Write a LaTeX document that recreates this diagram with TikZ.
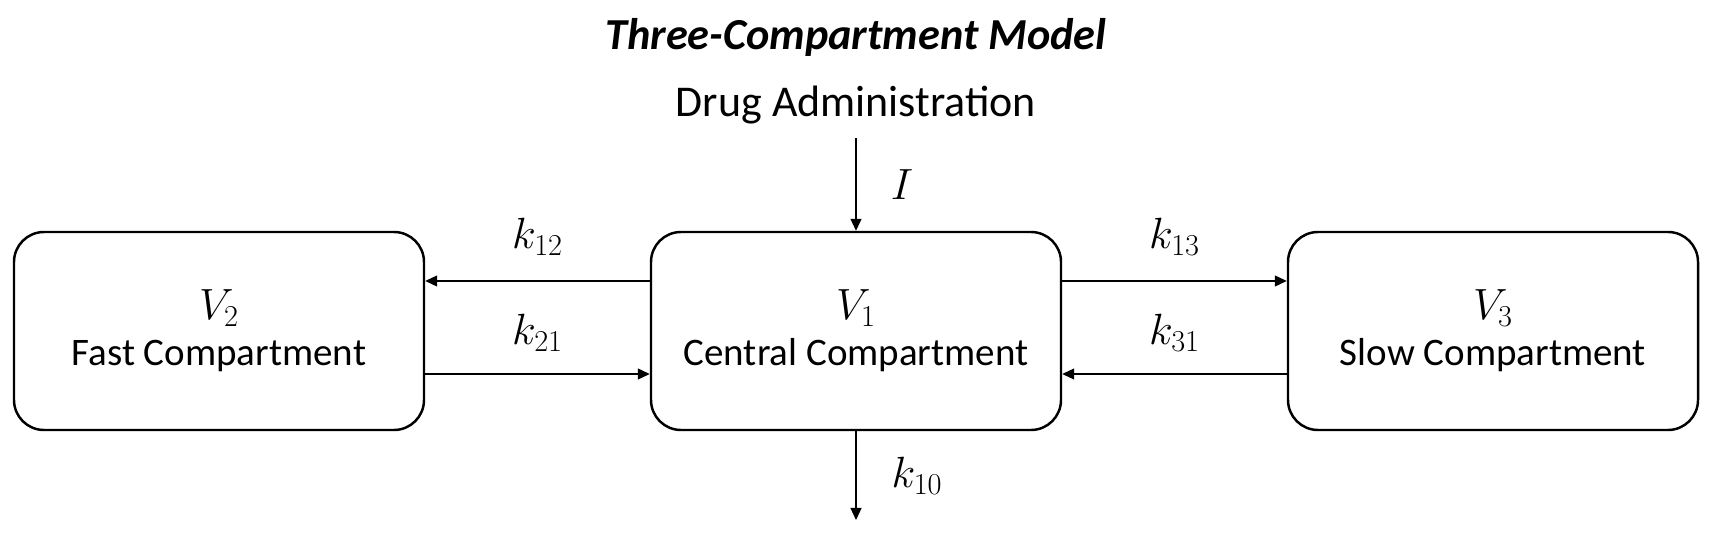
\documentclass[tikz,border=0pt]{standalone}
\usepackage{amsmath}
\usepackage{fontspec}
\setmainfont{Carlito}
\usetikzlibrary{arrows.meta}

\newcommand{\vol}[1]{{\fontsize{25}{26}\selectfont$V_{#1}$}}

\begin{document}
\begin{tikzpicture}[
    comp/.style={draw,line width=1.4pt,rounded corners=0.6cm,minimum width=8.2cm,minimum height=3.96cm,align=center,font=\fontsize{22.2}{26.4}\selectfont},
    flow/.style={-{Triangle[length=0.24cm,width=0.22cm]},line width=0.7pt},
    rate/.style={font=\fontsize{24.5}{29}\selectfont}
  ]
  \useasboundingbox (0,0) rectangle (34.24,10.8);

  % Title and input
  \node[anchor=base,font=\fontsize{25.2}{30}\selectfont\bfseries\itshape] (title) at (17.12,9.8) {Three-Compartment Model};
  \node[anchor=base,font=\fontsize{25}{30}\selectfont] (admin) at (17.12,8.46) {Drug Administration};
  \coordinate (dose) at (17.12,8.04);
  \coordinate (elim) at (17.12,0.4);

  % Compartments
  \node[comp] (v2) at (4.38,4.18) {\vol{2}\\Fast Compartment};
  \node[comp] (v1) at (17.12,4.18) {\vol{1}\\Central Compartment};
  \node[comp] (v3) at (29.86,4.18) {\vol{3}\\Slow Compartment};

  % Transfer between compartments
  \draw[flow] ([yshift=1cm]v1.west) -- node[rate,midway,yshift=0.88cm] {$k_{12}$} ([yshift=1cm]v2.east);
  \draw[flow] ([yshift=-0.86cm]v2.east) -- node[rate,midway,yshift=0.82cm] {$k_{21}$} ([yshift=-0.86cm]v1.west);
  \draw[flow] ([yshift=1cm]v1.east) -- node[rate,midway,yshift=0.88cm] {$k_{13}$} ([yshift=1cm]v3.west);
  \draw[flow] ([yshift=-0.86cm]v3.west) -- node[rate,midway,yshift=0.82cm] {$k_{31}$} ([yshift=-0.86cm]v1.east);

  % Input and elimination
  \draw[flow] (dose) -- node[rate,midway,xshift=0.92cm] {$I$} (v1.north);
  \draw[flow] (v1.south) -- node[rate,midway,xshift=1.22cm] {$k_{10}$} (elim);
\end{tikzpicture}
\end{document}
